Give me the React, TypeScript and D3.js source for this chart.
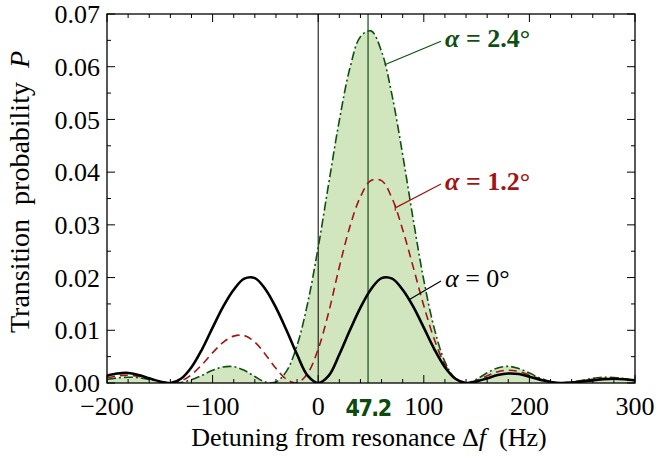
import React, { useEffect, useRef } from 'react';
import * as d3 from 'd3';

// detuning grid (Hz) and the three probability curves
const detuning = [
  -200, -190, -180, -170, -160, -150, -140, -130, -120, -110, -100, -90, -80, -70, -60, -50, -40, -30, -20, -10,
  0, 10, 20, 30, 40, 50, 60, 70, 80, 90, 100, 110, 120, 130, 140, 150, 160, 170, 180, 190,
  200, 210, 220, 230, 240, 250, 260, 270, 280, 290, 300,
];
const probAlpha0 = [
  0.0014, 0.0018, 0.0019, 0.0015, 0.0009, 0.0003, 0, 0.0008, 0.003, 0.0064, 0.0105, 0.0145, 0.0177, 0.0198, 0.0199, 0.0178, 0.0143, 0.01, 0.0054, 0.0014,
  0, 0.0014, 0.0054, 0.01, 0.0143, 0.0178, 0.0199, 0.0198, 0.0177, 0.0145, 0.0105, 0.0064, 0.003, 0.0008, 0, 0.0003, 0.0009, 0.0015, 0.0018, 0.0017,
  0.0012, 0.0006, 0.0002, 0, 0.0001, 0.0003, 0.0005, 0.0007, 0.0008, 0.0007, 0.0005,
];
const probAlpha12 = [
  0.00099, 0.00135, 0.00147, 0.00124, 0.00079, 0.00029, 0.00001, 0.00037, 0.00158, 0.00349, 0.00574, 0.00771, 0.00889, 0.009, 0.00776, 0.00542, 0.00278, 0.00069, 0.00003, 0.00183,
  0.00643, 0.01347, 0.022, 0.02964, 0.03533, 0.0384, 0.0384, 0.035, 0.02909, 0.02198, 0.01465, 0.00824, 0.0035, 0.0008, 0, 0.00048, 0.00137, 0.00213, 0.00243, 0.00219,
  0.00152, 0.00076, 0.00023, 0, 0.00012, 0.00039, 0.00068, 0.00089, 0.00092, 0.00075, 0.00048,
];
const probAlpha24 = [
  0.00065, 0.00096, 0.0011, 0.001, 0.00068, 0.00028, 0.00002, 0.0001, 0.00061, 0.00146, 0.0024, 0.00305, 0.00309, 0.0024, 0.00123, 0.00019, 0.0002, 0.00226, 0.00713, 0.01513,
  0.02574, 0.0379, 0.0498, 0.0597, 0.0657, 0.0668, 0.0629, 0.0545, 0.0433, 0.031, 0.0195, 0.0103, 0.00403, 0.0008, 0, 0.00071, 0.00193, 0.00286, 0.00316, 0.00274,
  0.00189, 0.00095, 0.00027, 0, 0.00014, 0.0005, 0.00088, 0.00109, 0.00105, 0.0008, 0.00045,
];

const xTicks = [-200, -100, 0, 100, 200, 300];
const yTicks = [0, 0.01, 0.02, 0.03, 0.04, 0.05, 0.06, 0.07];
const markedFreq = 47.2;
const labels = ['α = 2.4°', 'α = 1.2°', 'α = 0°'];

const GREEN = '#0f4f12';
const RED = '#a11515';
const FILL = '#d1e6bf';
const SERIF = '"Liberation Serif", "Times New Roman", serif';

export default function App() {
  const ref = useRef<SVGSVGElement>(null);

  useEffect(() => {
    const svg = d3.select(ref.current);
    svg.selectAll('*').remove();

    const left = 107, right = 635, top = 14, bottom = 383;
    const x = d3.scaleLinear().domain([-200, 300]).range([left, right]);
    const y = d3.scaleLinear().domain([0, 0.07]).range([bottom, top]);

    const pts = (vals: number[]) => detuning.map((f, i) => [f, vals[i]] as [number, number]);
    const curve = d3.curveCatmullRom.alpha(0.5);
    const line = d3.line<[number, number]>().x(d => x(d[0])).y(d => y(d[1])).curve(curve);
    const area = d3.area<[number, number]>().x(d => x(d[0])).y0(y(0)).y1(d => y(d[1])).curve(curve);

    svg.append('defs').append('clipPath').attr('id', 'plot')
      .append('rect').attr('x', left).attr('y', top).attr('width', right - left).attr('height', bottom - top);

    const plot = svg.append('g').attr('clip-path', 'url(#plot)');

    plot.append('path').attr('d', area(pts(probAlpha24))).attr('fill', FILL);

    // reference lines at zero and at the marked detuning
    plot.append('line').attr('x1', x(0)).attr('x2', x(0)).attr('y1', top).attr('y2', bottom)
      .attr('stroke', '#000').attr('stroke-width', 1);
    plot.append('line').attr('x1', x(markedFreq)).attr('x2', x(markedFreq)).attr('y1', top).attr('y2', bottom)
      .attr('stroke', GREEN).attr('stroke-width', 1.2);

    plot.append('path').attr('d', line(pts(probAlpha24))).attr('fill', 'none')
      .attr('stroke', GREEN).attr('stroke-width', 1.6).attr('stroke-dasharray', '9,3,2,3');
    plot.append('path').attr('d', line(pts(probAlpha12))).attr('fill', 'none')
      .attr('stroke', RED).attr('stroke-width', 1.6).attr('stroke-dasharray', '8,5');
    plot.append('path').attr('d', line(pts(probAlpha0))).attr('fill', 'none')
      .attr('stroke', '#000').attr('stroke-width', 2.6);

    // frame + inward ticks on all sides
    svg.append('rect').attr('x', left).attr('y', top).attr('width', right - left).attr('height', bottom - top)
      .attr('fill', 'none').attr('stroke', '#000').attr('stroke-width', 1.3);

    const tickG = svg.append('g').attr('stroke', '#000').attr('stroke-width', 1);
    x.ticks(25).forEach(t => {
      const len = xTicks.includes(t) ? 8 : 4;
      tickG.append('line').attr('x1', x(t)).attr('x2', x(t)).attr('y1', bottom).attr('y2', bottom - len);
      tickG.append('line').attr('x1', x(t)).attr('x2', x(t)).attr('y1', top).attr('y2', top + len);
    });
    y.ticks(14).forEach(t => {
      const len = yTicks.some(v => Math.abs(v - t) < 1e-9) ? 8 : 4;
      tickG.append('line').attr('x1', left).attr('x2', left + len).attr('y1', y(t)).attr('y2', y(t));
      tickG.append('line').attr('x1', right).attr('x2', right - len).attr('y1', y(t)).attr('y2', y(t));
    });

    svg.append('g').selectAll('text').data(xTicks).enter().append('text')
      .attr('x', d => x(d)).attr('y', 415)
      .attr('text-anchor', 'middle').style('font-family', SERIF).style('font-size', '26px')
      .text(d => (d < 0 ? '\u2212' + Math.abs(d) : String(d)));

    svg.append('text').attr('x', x(markedFreq)).attr('y', 416).attr('text-anchor', 'middle')
      .style('font-family', '"DejaVu Sans Condensed", sans-serif')
      .style('font-weight', 'bold').style('font-size', '23px').style('letter-spacing', '-1.5px')
      .attr('fill', '#0c4a0e').text(String(markedFreq));

    svg.append('g').selectAll('text').data(yTicks).enter().append('text')
      .attr('x', left - 7).attr('y', d => y(d)).attr('dy', '0.35em')
      .attr('text-anchor', 'end').style('font-family', SERIF).style('font-size', '26px')
      .text(d => d.toFixed(2));

    // axis titles
    const xl = svg.append('text').attr('x', (left + right) / 2 - 2).attr('y', 446)
      .attr('text-anchor', 'middle').style('font-family', SERIF).style('font-size', '26px')
      .style('white-space', 'pre');
    xl.append('tspan').text('Detuning from resonance \u0394');
    xl.append('tspan').style('font-style', 'italic').text('f');
    xl.append('tspan').text('  (Hz)');

    const yl = svg.append('text').attr('transform', `translate(29,192) rotate(-90)`)
      .attr('text-anchor', 'middle').style('font-family', SERIF).style('font-size', '28px')
      .style('white-space', 'pre');
    yl.append('tspan').text('Transition  probability  ');
    yl.append('tspan').style('font-style', 'italic').text('P');

    // curve annotations with leader lines
    const notes = [
      { text: labels[0], color: GREEN, bold: true, from: 63, vals: probAlpha24, ty: 0.0637 },
      { text: labels[1], color: RED, bold: true, from: 73, vals: probAlpha12, ty: 0.0366 },
      { text: labels[2], color: '#000', bold: false, from: 86, vals: probAlpha0, ty: 0.0182 },
    ];
    const textX = 445;
    notes.forEach((n, k) => {
      const i0 = detuning.findIndex(f => f > n.from) - 1;
      const t = (n.from - detuning[i0]) / (detuning[i0 + 1] - detuning[i0]);
      const v = n.vals[i0] + t * (n.vals[i0 + 1] - n.vals[i0]);
      const sx = x(n.from), sy = y(v);
      const ex = textX - 4, ey = y(n.ty) - 6;
      svg.append('line').attr('x1', sx).attr('y1', sy).attr('x2', ex).attr('y2', ey)
        .attr('stroke', n.color).attr('stroke-width', 1.2);
      if (k === 1) {
        svg.append('line').attr('x1', sx).attr('x2', sx).attr('y1', sy - 3).attr('y2', sy + 3)
          .attr('stroke', n.color).attr('stroke-width', 1.2);
      }
      const tx = svg.append('text').attr('x', textX).attr('y', y(n.ty))
        .style('font-family', SERIF).style('font-size', '26px').attr('fill', n.color)
        .style('font-weight', n.bold ? 'bold' : 'normal');
      tx.append('tspan').style('font-style', 'italic').text(n.text.slice(0, 1));
      tx.append('tspan').text(n.text.slice(1));
    });
  }, []);

  return (
    <svg ref={ref} width={656} height={457}
      style={{ position: 'absolute', left: 0, top: 0, background: '#fff' }} />
  );
}
